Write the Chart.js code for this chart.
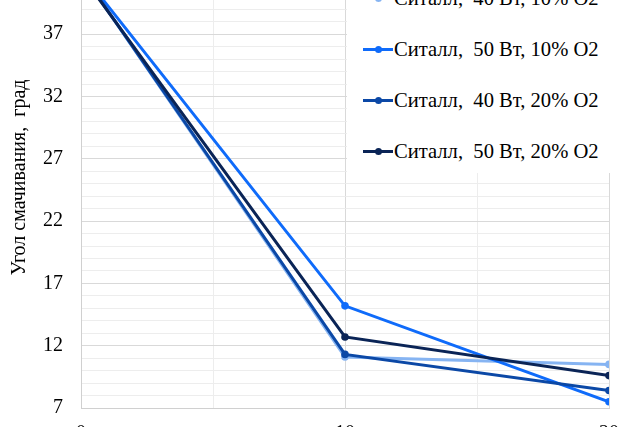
<!DOCTYPE html>
<html>
<head>
<meta charset="utf-8">
<script src="https://cdn.jsdelivr.net/npm/chart.js@4.4.1/dist/chart.umd.min.js"></script>
<style>
html, body { margin: 0; padding: 0; background: #fff; overflow: hidden; }
#frame { position: relative; width: 640px; height: 427px; overflow: hidden; }
#wrap { position: absolute; left: 0; top: -66px; width: 640px; height: 512px; }
#legend { position: absolute; left: 347px; top: -27px; width: 293px; height: 200px; background: #fff; overflow: hidden;
          font-family: "Liberation Serif", "Times New Roman", serif; font-size: 20.6px; color: #000; }
.leg-row { height: 51px; display: flex; align-items: center; white-space: pre; }
.leg-mark { position: relative; width: 30px; height: 3px; margin-left: 16px; margin-right: 1px; }
.leg-dot { position: absolute; left: 11.5px; top: -2px; width: 7px; height: 7px; border-radius: 50%; }
</style>
</head>
<body>
<div id="frame">
  <div id="wrap"><canvas id="chart"></canvas></div>
  <div id="legend"></div>
</div>
<script>
// Данные
const xValues = [0, 10, 20];
const seriesNames = ['Ситалл,  40 Вт, 10% O2', 'Ситалл,  50 Вт, 10% O2', 'Ситалл,  40 Вт, 20% O2', 'Ситалл,  50 Вт, 20% O2'];
const s40w10 = [42.0, 11.1, 10.5];
const s50w10 = [42.0, 15.2, 7.5];
const s40w20 = [42.0, 11.3, 8.4];
const s50w20 = [41.8, 12.7, 9.6];
const seriesColors = ['#86B4F2', '#0F6BFA', '#0B48A6', '#0A2456'];
const yMajorTicks = [7, 12, 17, 22, 27, 32, 37, 42];
const xMajorTicks = [0, 10, 20];
const yTitle = 'Угол смачивания,  град';

const FONT = '"Liberation Serif", "Times New Roman", serif';
const font20 = { family: FONT, size: 20 };
Chart.defaults.font.family = FONT;
Chart.defaults.font.size = 20;
Chart.defaults.color = '#000';

const allSeries = [s40w10, s50w10, s40w20, s50w20];
const datasets = allSeries.map((vals, i) => ({
    label: seriesNames[i],
    data: vals.map((v, k) => ({ x: xValues[k], y: v })),
    borderColor: seriesColors[i],
    backgroundColor: seriesColors[i],
    pointBackgroundColor: seriesColors[i],
    pointBorderWidth: 0,
    pointRadius: 3.8,
    borderWidth: 3,
    tension: 0,
    order: allSeries.length - i
}));

const ctx = document.getElementById('chart').getContext('2d');
const chart = new Chart(ctx, {
    type: 'line',
    data: { datasets: datasets },
    options: {
        animation: false, responsive: true, maintainAspectRatio: false,
        layout: { padding: { left: 4, right: 31, top: 13, bottom: 0 } },
        plugins: { legend: { display: false }, tooltip: { enabled: false } },
        scales: {
            x: {
                type: 'linear', min: 0, max: 20,
                afterBuildTicks: (s) => { s.ticks = [0, 5, 10, 15, 20].map(v => ({ value: v })); },
                ticks: { padding: 0, maxRotation: 0, font: font20, color: '#000',
                         callback: (v) => xMajorTicks.includes(v) ? String(v) : '' },
                grid: { drawTicks: true, tickLength: 14, tickColor: 'rgba(0,0,0,0)',
                        color: (c) => (c.tick && xMajorTicks.includes(c.tick.value)) ? '#D9D9D9' : '#EDEDED' },
                border: { color: '#D0D0D0' }
            },
            y: {
                type: 'linear', min: 7, max: 44,
                afterBuildTicks: (s) => { const t = []; for (let v = 7; v <= 44; v++) t.push({ value: v }); s.ticks = t; },
                ticks: { padding: 0, autoSkip: false, font: font20, color: '#000',
                         callback: (v) => yMajorTicks.includes(v) ? String(v) : '' },
                grid: { drawTicks: true, tickLength: 18, tickColor: 'rgba(0,0,0,0)',
                        color: (c) => (c.tick && yMajorTicks.includes(c.tick.value)) ? '#D9D9D9' : '#EDEDED' },
                border: { color: '#D0D0D0' },
                title: { display: true, text: yTitle, font: font20, color: '#000', padding: { top: 4, bottom: 11 } }
            }
        }
    }
});

// Легенда поверх графика
const legend = document.getElementById('legend');
chart.data.datasets.forEach(ds => {
    const row = document.createElement('div');
    row.className = 'leg-row';
    row.innerHTML = `<span class="leg-mark" style="background:${ds.borderColor}"><span class="leg-dot" style="background:${ds.borderColor}"></span></span><span>${ds.label}</span>`;
    legend.appendChild(row);
});
</script>
</body>
</html>
